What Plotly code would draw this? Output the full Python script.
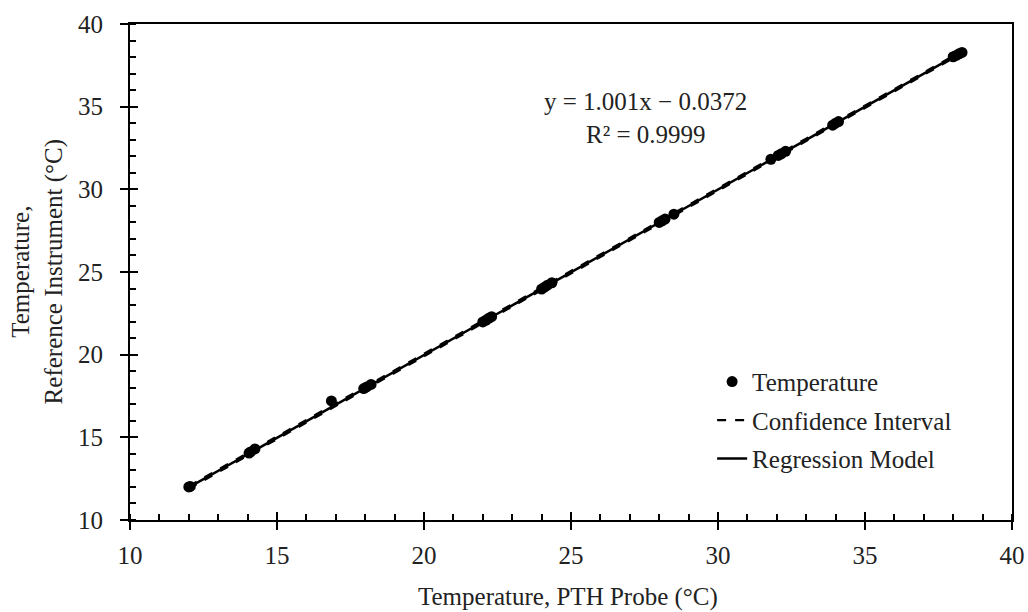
import plotly.graph_objects as go

pth_probe = [12.0, 12.05, 14.05, 14.1, 14.25, 16.85, 17.95, 18.05, 18.2,
             22.0, 22.1, 22.2, 22.3, 24.0, 24.1, 24.2, 24.35, 28.0, 28.1, 28.2, 28.5,
             31.8, 32.05, 32.15, 32.3, 33.9, 34.0, 34.1,
             38.0, 38.1, 38.2, 38.3]
reference = [12.0, 12.03, 14.05, 14.12, 14.3, 17.2, 17.95, 18.05, 18.2,
             21.98, 22.08, 22.2, 22.3, 23.97, 24.08, 24.2, 24.35, 28.0, 28.1, 28.2, 28.5,
             31.82, 32.05, 32.15, 32.3, 33.88, 34.0, 34.1,
             38.02, 38.1, 38.2, 38.28]

# Regression model and confidence interval endpoints
fit_x = [12.0, 38.3]
fit_y = [11.97, 38.30]
ci_upper_y = [12.05, 38.37]
ci_lower_y = [11.89, 38.23]

eq_text = "y = 1.001x − 0.0372"
r2_text = "R² = 0.9999"

FONT = "Liberation Serif"
FS = 25

fig = go.Figure()

fig.add_trace(go.Scatter(x=pth_probe, y=reference, mode="markers", name="Temperature",
                         marker=dict(color="black", size=11), legendgroup="a"))
fig.add_trace(go.Scatter(x=fit_x, y=ci_upper_y, mode="lines", name="Confidence Interval",
                         line=dict(color="black", width=2.2, dash="dash"), legendgroup="b"))
fig.add_trace(go.Scatter(x=fit_x, y=ci_lower_y, mode="lines", name="Confidence Interval",
                         line=dict(color="black", width=2.2, dash="dash"), legendgroup="b",
                         showlegend=False))
fig.add_trace(go.Scatter(x=fit_x, y=fit_y, mode="lines", name="Regression Model",
                         line=dict(color="black", width=2.5), legendgroup="c"))
# helper trace for overlay tick axes
fig.add_trace(go.Scatter(x=[], y=[], xaxis="x2", yaxis="y2", showlegend=False, hoverinfo="skip"))

axis_common = dict(range=[10, 40], dtick=5, showgrid=False, zeroline=False, automargin=False,
                   linecolor="black", linewidth=2, ticks="outside", ticklen=8, tickwidth=2,
                   tickcolor="black", tickfont=dict(family=FONT, size=FS, color="#222"),
                   minor=dict(dtick=1, ticks="inside", ticklen=6, tickwidth=1.5, tickcolor="black",
                              showgrid=False))

fig.update_layout(
    width=1028, height=612,
    margin=dict(l=130, r=16, t=24, b=92, autoexpand=False),
    paper_bgcolor="white", plot_bgcolor="white",
    font=dict(family=FONT, size=FS, color="#222"),
    showlegend=True,
    xaxis=dict(**axis_common, mirror=True, ticklabelstandoff=4),
    yaxis=dict(**axis_common, mirror=True, ticklabelstandoff=12),
    xaxis2=dict(overlaying="x", anchor="y", range=[10, 40], dtick=5, ticks="inside", ticklen=8,
                tickwidth=2, tickcolor="black", showticklabels=False, showgrid=False,
                zeroline=False, showline=False, automargin=False),
    yaxis2=dict(overlaying="y", anchor="x", range=[10, 40], dtick=5, ticks="inside", ticklen=8,
                tickwidth=2, tickcolor="black", showticklabels=False, showgrid=False,
                zeroline=False, showline=False, automargin=False),
    legend=dict(x=0.660, y=0.325, xanchor="left", yanchor="top", bgcolor="rgba(0,0,0,0)",
                font=dict(family=FONT, size=FS, color="#222"),
                traceorder="grouped", tracegroupgap=3),
    annotations=[
        dict(x=27.55, y=35.3, xref="x", yref="y", text=eq_text, showarrow=False,
             font=dict(family=FONT, size=FS, color="#222")),
        dict(x=27.55, y=33.3, xref="x", yref="y", text=r2_text, showarrow=False,
             font=dict(family=FONT, size=FS, color="#222")),
        dict(x=0.497, y=-0.155, xref="paper", yref="paper", text="Temperature, PTH Probe (°C)",
             showarrow=False, xanchor="center", yanchor="middle",
             font=dict(family=FONT, size=FS, color="#222")),
        dict(x=-0.105, y=0.5, xref="paper", yref="paper",
             text="Temperature,<br>Reference Instrument (°C)", textangle=-90,
             showarrow=False, xanchor="center", yanchor="middle",
             font=dict(family=FONT, size=FS, color="#222")),
    ],
)

fig.write_html(
    "out.html",
    config={"displayModeBar": False},
    post_script="document.body.style.margin='0';document.body.style.overflow='hidden';",
)
